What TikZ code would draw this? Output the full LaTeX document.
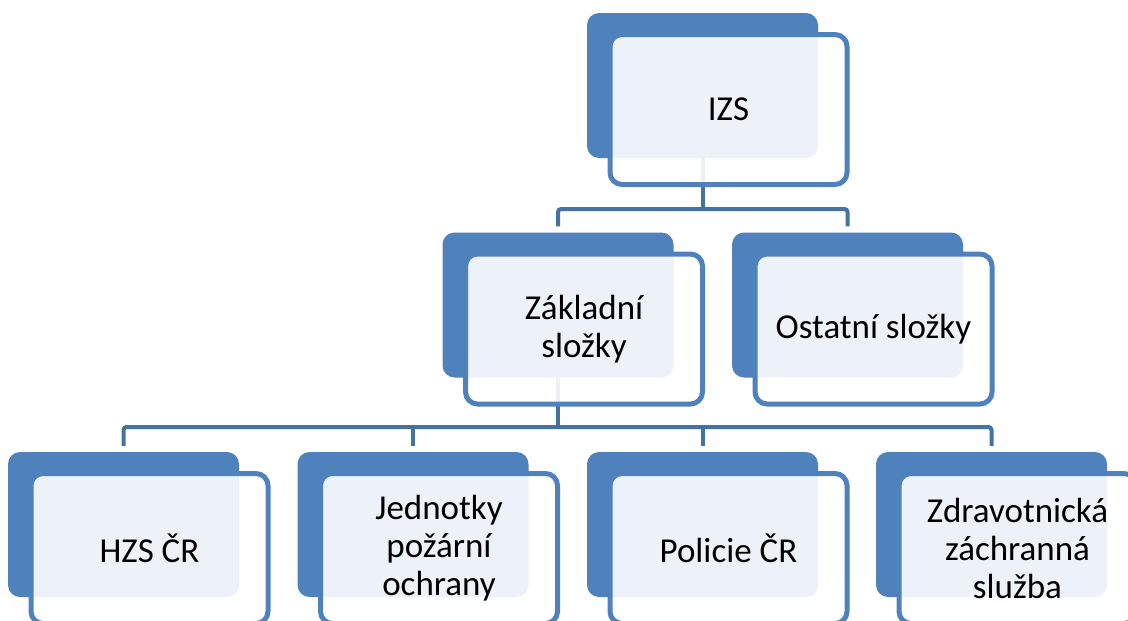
\documentclass[tikz,border=0pt]{standalone}
\usepackage{fontspec}
\setmainfont{Carlito}
\usepackage{tikz}
\usetikzlibrary{calc}

\definecolor{izsblue}{RGB}{79,129,189}
\definecolor{izsline}{RGB}{68,114,163}

\tikzset{
  back/.style={fill=izsblue, rounded corners=12pt, minimum width=231pt, minimum height=145pt, inner sep=0pt},
  front/.style={draw=izsblue, line width=5pt, fill=white, fill opacity=0.9, text opacity=1,
    rounded corners=12pt, minimum width=237pt, minimum height=150pt, inner sep=0pt,
    align=center, font=\fontsize{35}{38}\selectfont},
  conn/.style={draw=izsline, line width=4pt, rounded corners=3pt},
}

\begin{document}
\begin{tikzpicture}[x=1pt, y=-1pt]
  \useasboundingbox (0,0) rectangle (1128,621);
  \clip (0,0) rectangle (1128,621);
  % Back boxes
  \node[back] (izs)  at (702.5,85.5) {};
  \node[back] (zakl) at (558,305) {};
  \node[back] (ost)  at (847.5,305) {};
  \node[back] (hzs)  at (123.5,524.5) {};
  \node[back] (jpo)  at (413,524.5) {};
  \node[back] (pcr)  at (702.5,524.5) {};
  \node[back] (zzs)  at (991.5,524.5) {};
  % Connectors
  \coordinate (bus1) at (702.5,209);
  \coordinate (bus2) at (558,427);
  \draw[conn] (izs.south) -- (izs.south |- bus1);
  \draw[conn] ([yshift=6pt]zakl.north) |- (bus1) -| ([yshift=6pt]ost.north);
  \draw[conn] (zakl.south) -- (bus2);
  \draw[conn] ([yshift=6pt]hzs.north) |- (bus2) -| ([yshift=6pt]zzs.north);
  \draw[conn] ([yshift=6pt]jpo.north) -- (jpo.north |- bus2);
  \draw[conn] ([yshift=6pt]pcr.north) -- (pcr.north |- bus2);
  % Front boxes with text
  \node[front] (izs-t)  at ($(izs)+(26,24)$)  {IZS};
  \node[front] (zakl-t) at ($(zakl)+(26,24)$) {Základní\\složky};
  \node[front] (ost-t)  at ($(ost)+(26,24)$)  {Ostatní složky};
  \node[front] (hzs-t)  at ($(hzs)+(26,24)$)  {HZS ČR};
  \node[front] (jpo-t)  at ($(jpo)+(26,24)$)  {Jednotky\\požární\\ochrany};
  \node[front] (pcr-t)  at ($(pcr)+(26,24)$)  {Policie ČR};
  \node[front] (zzs-t)  at ($(zzs)+(26,24)$)  {Zdravotnická\\záchranná\\služba};
\end{tikzpicture}
\end{document}
